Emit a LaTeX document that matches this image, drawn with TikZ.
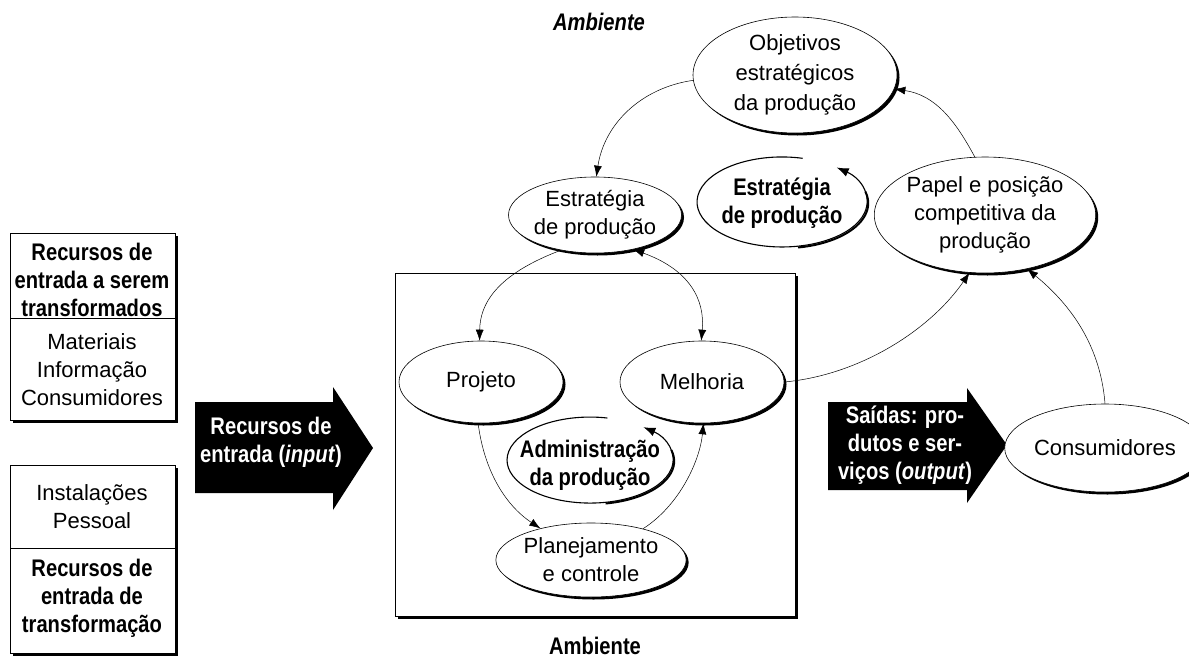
\documentclass[tikz,border=0pt]{standalone}
\usepackage{fontspec}
\setmainfont{Liberation Sans}[BoldFeatures={FakeStretch=0.84},BoldItalicFeatures={FakeStretch=0.84}]
\usetikzlibrary{arrows.meta,shapes.geometric,shadows}

\begin{document}
\begin{tikzpicture}[x=1pt,y=-1pt,
  every node/.style={font=\fontsize{22}{28}\selectfont,align=center,inner sep=0pt},
  heavy/.style={font=\fontsize{24}{28}\selectfont\bfseries},
  castshadow/.style={drop shadow={shadow xshift=2.5pt,shadow yshift=-2.5pt,fill=black,opacity=1}},
  stage/.style={ellipse,draw,fill=white,line width=0.6pt,castshadow},
  panel/.style={draw,fill=white,line width=0.8pt,castshadow},
  conn/.style={line width=0.5pt,-{Latex[length=11pt,width=8pt]}},
  dconn/.style={line width=0.5pt,{Latex[length=11pt,width=8pt]}-{Latex[length=11pt,width=8pt]}},
  ring/.style={line width=1.1pt,-{Latex[length=12pt,width=9pt]}},
  bigarrow/.style={fill=black}]

\useasboundingbox (0,0) rectangle (1189,659);

% recursos de entrada
\draw[panel] (10,233) rectangle (175,420);
\draw (10,318) -- (175,318);
\node[heavy] (trf) at (92,280) {Recursos de\\entrada a serem\\transformados};
\node (mat) at (92,370) {Materiais\\Informação\\Consumidores};
\draw[panel] (10,465) rectangle (175,653);
\draw (10,548) -- (175,548);
\node (inst) at (92,507) {Instalações\\Pessoal};
\node[heavy] (trf2) at (92,598) {Recursos de\\entrada de\\transformação};

% setas grandes
\fill[bigarrow] (195,402) -- (333,402) -- (333,387) -- (373,448) -- (333,510) -- (333,493) -- (195,493) -- cycle;
\node[heavy,text=white] (inp) at (271,442) {Recursos de\\entrada (\textit{input})};
\fill[bigarrow] (828,402) -- (967,402) -- (967,388) -- (1007,445) -- (967,503) -- (967,490) -- (828,490) -- cycle;
\node[heavy,text=white] (outp) at (905,445) {Saídas: pro-\\dutos e ser-\\viços (\textit{output})};

% operacao
\draw[panel] (395,273) rectangle (795,616);
\node[stage,minimum width=164pt,minimum height=82pt] (proj) at (481,382) {Projeto};
\node[stage,minimum width=164pt,minimum height=82pt] (mel) at (702,382) {Melhoria};
\node[stage,minimum width=166pt,minimum height=74pt] (plan) at (591,560) {Planejamento\\e controle};
\node[heavy] (adm) at (590,465) {Administração\\da produção};
\draw[ring] (607.3,418) arc[start angle=-78,end angle=-410,x radius=83,y radius=43];
\draw[line width=2pt] (605.6,503.5) arc[start angle=80,end angle=-15,x radius=83,y radius=43];

% estrategia
\node[heavy,font=\fontsize{24}{28}\selectfont\bfseries\itshape] (amb1) at (599,22) {Ambiente};
\node[heavy] (amb2) at (595,646) {Ambiente};
\node[stage,minimum width=204pt,minimum height=116pt] (obj) at (795,75) {Objetivos\\[2pt]estratégicos\\[2pt]da produção};
\node[stage,minimum width=164pt,minimum height=76pt] (estr) at (595,215) {Estratégia\\de produção};
\node[stage,minimum width=200pt,minimum height=116pt] (papel) at (985,215) {Papel e posição\\competitiva da\\produção};
\node[stage,minimum width=164pt,minimum height=88pt] (cons) at (1105,448) {Consumidores};
\node[heavy] (est2) at (782,203) {Estratégia\\de produção};
\draw[ring] (802.6,158.3) arc[start angle=-76,end angle=-410,x radius=85,y radius=45];
\draw[line width=2pt] (798,247.5) arc[start angle=80,end angle=-15,x radius=85,y radius=45];

% conexoes
\draw[conn] (obj.183) .. controls (640,88) and (604,125) .. (estr.88);
\draw[conn] (estr.226) .. controls (495,275) and (480,305) .. (proj.92);
\draw[dconn] (estr.-42) .. controls (690,270) and (705,300) .. (mel.91);
\draw[conn] (proj.266) .. controls (484,470) and (505,505) .. (plan.148);
\draw[conn] (plan.31) .. controls (680,505) and (700,460) .. (mel.-88);
\draw[conn] (mel.east) .. controls (860,375) and (930,330) .. (papel.-105);
\draw[conn] (cons.north) .. controls (1100,340) and (1065,300) .. (papel.-52);
\draw[conn] (papel.100) .. controls (955,120) and (935,95) .. (obj.-8);
\end{tikzpicture}
\end{document}
